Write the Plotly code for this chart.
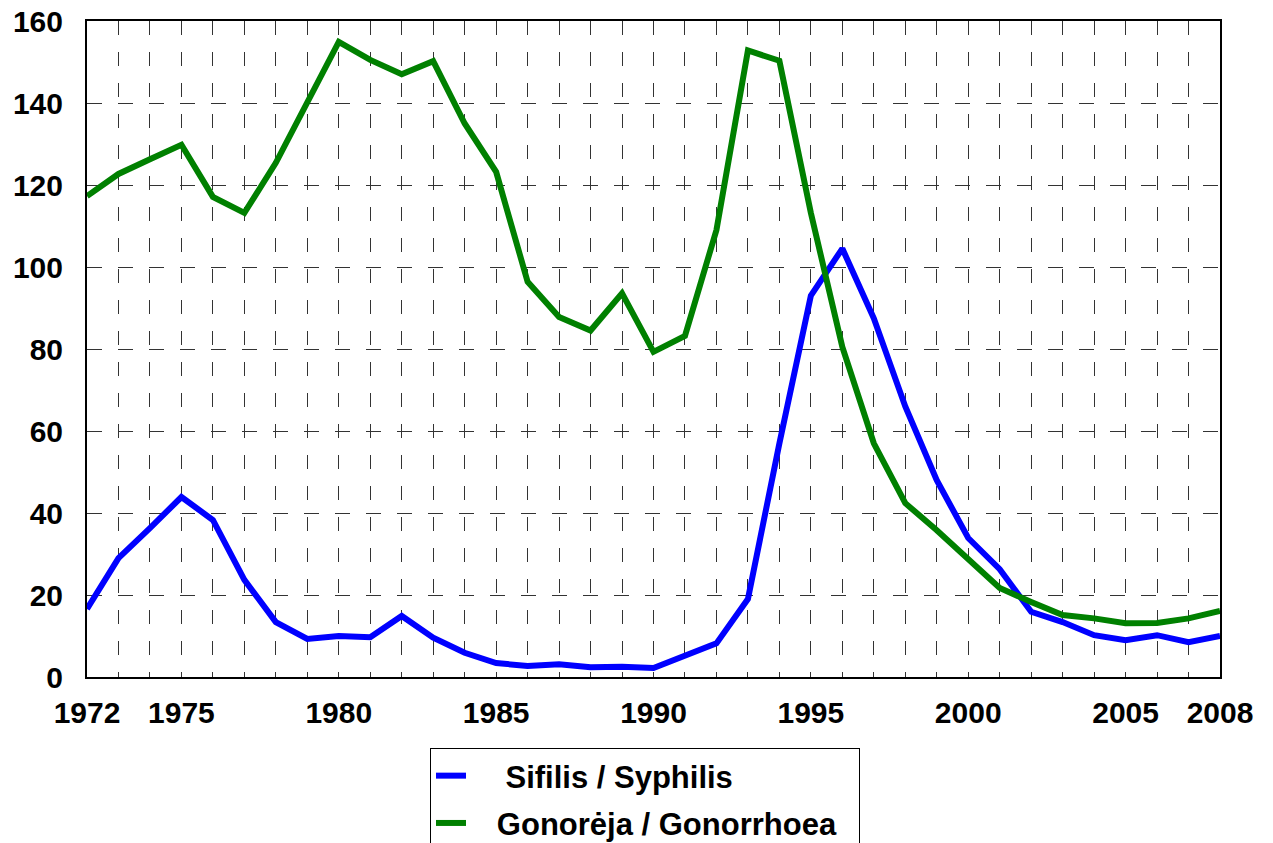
import plotly.graph_objects as go

MELYNA = "#0000ff"
ZALIA = "#008000"
JUODA = "#000000"

metai = list(range(1972, 2009))

sifilis = [16.6, 29.0, 36.3, 43.9, 38.3, 23.7, 13.4, 9.3, 10.0, 9.7,
           14.9, 9.6, 5.9, 3.4, 2.7, 3.1, 2.4, 2.5, 2.2, 5.3,
           8.2, 19.0, 57.0, 93.0, 104.5, 87.5, 66.0, 48.0, 33.9, 26.3,
           15.9, 13.4, 10.2, 9.0, 10.2, 8.5, 10.0]

gonoreja = [117.3, 122.7, 126.3, 129.8, 117.1, 113.2, 125.4, 140.0, 154.9, 150.5,
            147.0, 150.2, 135.0, 123.2, 96.4, 87.8, 84.5, 93.6, 79.3, 83.2,
            109.0, 152.8, 150.3, 113.2, 80.5, 57.0, 42.4, 35.8, 28.9, 21.7,
            18.3, 15.1, 14.3, 13.1, 13.2, 14.3, 16.1]

x_zymes = {1972: "1972", 1975: "1975", 1980: "1980", 1985: "1985", 1990: "1990",
           1995: "1995", 2000: "2000", 2005: "2005", 2008: "2008"}

TARPAS = "\u00a0"

fig = go.Figure()
fig.add_trace(go.Scatter(x=metai, y=sifilis, mode="lines",
                         name=TARPAS * 4 + "Sifilis / Syphilis", legendgroup="s",
                         line=dict(color=MELYNA, width=6)))
fig.add_trace(go.Scatter(x=metai, y=gonoreja, mode="lines",
                         name=TARPAS * 3 + "Gonorėja / Gonorrhoea" + TARPAS * 2, legendgroup="g",
                         line=dict(color=ZALIA, width=6)))

# puslapis turi 8px paraste, todel paraste sumazinta
fig.update_layout(
    width=1273, height=843,
    plot_bgcolor="white", paper_bgcolor="white",
    font=dict(family="Liberation Sans, Arial", color=JUODA, size=30),
    margin=dict(l=79, r=61, t=13, b=174, autoexpand=False),
    showlegend=True,
    legend=dict(
        x=(430 - 87) / 1133, y=-(748 - 677) / 656, xanchor="left", yanchor="top",
        bordercolor=JUODA, borderwidth=1, bgcolor="white",
        font=dict(size=31, family="Liberation Sans, Arial", color=JUODA, weight="bold"),
        tracegroupgap=4, itemwidth=30,
    ),
)

fig.update_xaxes(
    range=[1972, 2008],
    tickvals=metai,
    ticktext=[x_zymes.get(m, "") for m in metai],
    tickfont=dict(size=30, weight="bold"),
    ticks="", ticklabelstandoff=8, ticklabeloverflow="allow",
    showgrid=True, gridcolor="#333333", gridwidth=1, griddash="14px,17px",
    showline=True, linecolor=JUODA, linewidth=2, mirror=True,
    zeroline=False,
)
fig.update_yaxes(
    range=[0, 160], dtick=20,
    tickfont=dict(size=30, weight="bold"),
    ticks="", ticklabelstandoff=16, ticklabeloverflow="allow",
    showgrid=True, gridcolor="#333333", gridwidth=1, griddash="15px,16px",
    showline=True, linecolor=JUODA, linewidth=2, mirror=True,
    zeroline=False,
)

fig.write_html("out.html")
